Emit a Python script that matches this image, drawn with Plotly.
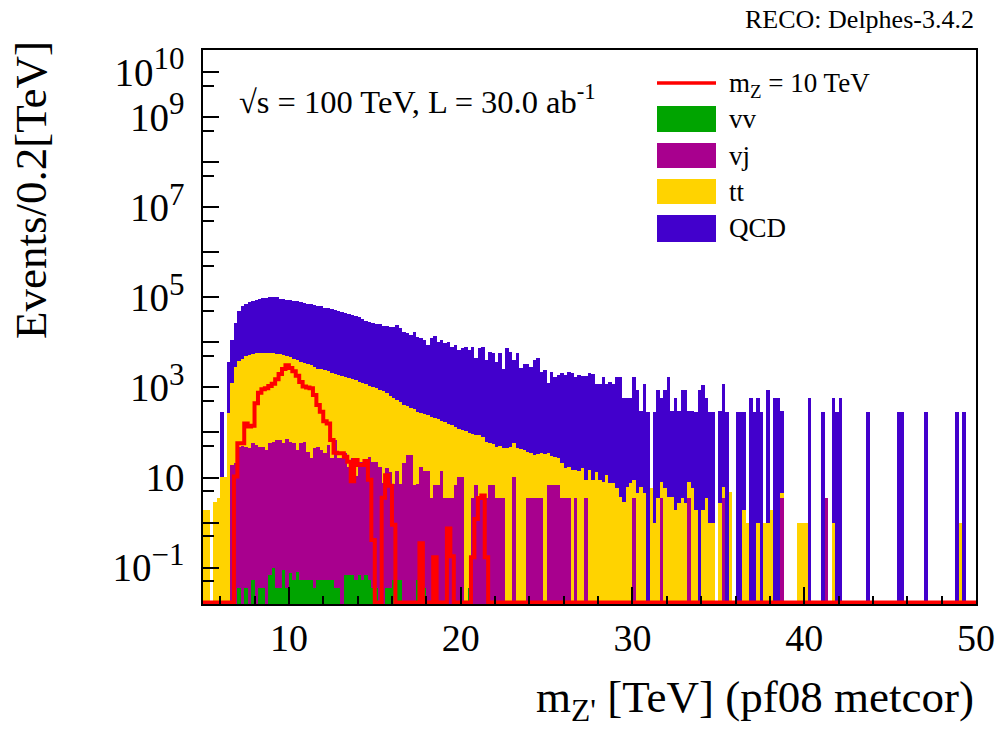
import numpy as np
import plotly.graph_objects as go

# ---------------- binning ----------------
X_MIN, X_MAX, BIN_W = 5.0, 50.0, 0.2
N_BINS = 225

# ---------------- data (events per 0.2 TeV bin) ----------------
QCD = [
    0, 0, 0, 0, 0, 280, 0, 3430, 9900, 24000,
    46300, 58700, 67400, 72200, 77600, 81300, 85300, 91800, 91800, 96200,
    94200, 94400, 87800, 85900, 84100, 82400, 80700, 77300, 73900, 72300,
    69100, 67600, 63200, 62000, 60600, 56500, 55200, 52900, 50500, 48200,
    46100, 44000, 42000, 39200, 36600, 35000, 31800, 28300, 27700, 26500,
    25300, 24200, 22600, 22100, 21800, 21800, 24000, 19900, 17000, 15400,
    14100, 17100, 13200, 12000, 10900, 8460, 12100, 13300, 10000, 11000,
    9380, 10000, 7800, 8570, 6640, 7300, 7830, 6660, 7850, 4380,
    7320, 7860, 4010, 6110, 5700, 3670, 5700, 2580, 7360, 6120,
    4000, 5700, 2590, 3350, 3350, 2850, 4040, 4440, 2200, 2420,
    1190, 2210, 1710, 1830, 2020, 1840, 2220, 2030, 1730, 1850,
    1750, 1750, 2030, 2030, 1160, 1160, 1740, 1160, 1310, 1160,
    1740, 1740, 580, 580, 580, 1740, 870, 290, 1160, 290,
    0, 290, 870, 580, 870, 1740, 290, 580, 290, 870,
    870, 290, 290, 290, 870, 1160, 580, 290, 290, 0,
    290, 1160, 290, 0, 0, 290, 290, 290, 0, 580,
    290, 580, 290, 0, 870, 0, 580, 580, 290, 0,
    0, 0, 0, 0, 0, 0, 580, 0, 0, 0,
    290, 0, 0, 580, 290, 580, 0, 0, 0, 0,
    0, 0, 0, 290, 0, 0, 0, 0, 0, 0,
    0, 0, 290, 290, 0, 0, 0, 0, 0, 0,
    290, 0, 0, 0, 0, 0, 0, 0, 0, 290,
    0, 290, 0, 0, 0,
]

TTBAR = [
    1.9, 1.9, 0, 2.8, 3.6, 10.4, 10.4, 270, 1240, 2800,
    3750, 4320, 4960, 5330, 5560, 5700, 5840, 5840, 5850, 5690,
    5690, 5550, 5430, 5190, 4940, 4620, 4310, 3940, 3660, 3490,
    3270, 3130, 2840, 2580, 2470, 2370, 2240, 2110, 1970, 1880,
    1790, 1700, 1600, 1480, 1440, 1330, 1240, 1150, 1070, 1000,
    933, 874, 825, 743, 618, 568, 511, 472, 396, 348,
    323, 317, 281, 252, 237, 226, 220, 207, 193, 168,
    170, 154, 141, 125, 112, 104, 107, 98, 89, 82,
    83, 75, 59, 51, 48, 44, 46, 42, 45, 48,
    47, 46, 44, 41, 34, 31, 28, 29, 32, 33,
    28, 23, 21, 20, 18, 12.5, 13.5, 15, 11.5, 14,
    16, 5.4, 15, 8.9, 13.5, 8.9, 8.1, 11.5, 7.4, 7.4,
    5.8, 3.7, 2.9, 6.3, 7.4, 5.4, 4.5, 6.3, 4.5, 0,
    5.8, 0.96, 3.5, 4.6, 5.8, 3.7, 3.7, 1.9, 2.7, 3.5,
    2.7, 4.6, 5.8, 1.9, 0, 1.9, 3.5, 0.96, 0.96, 0,
    2.7, 2.8, 0, 4.9, 0, 0, 0, 1.9, 0.96, 0,
    0, 0.96, 0, 0.96, 0.96, 1.9, 0, 0, 0.96, 0,
    0, 0, 0, 0.96, 0.96, 0.96, 0, 0, 0, 0,
    0, 0, 0, 0.96, 0, 0, 0, 0, 0, 0,
    0, 0, 0, 0, 0, 0, 0, 0, 0, 0,
    0, 0, 0, 0, 0, 0, 0, 0, 0, 0,
    0, 0, 0, 0, 0, 0, 0, 0, 0, 0,
    0.96, 0, 0, 0, 0,
]

VJ = [
    0, 0, 0, 0, 0, 0, 0, 0, 19, 21,
    48, 50, 48, 45, 58, 52, 48, 48, 41, 58,
    62, 68, 68, 58, 72, 62, 58, 41, 58, 62,
    37, 27, 45, 48, 41, 35, 52, 27, 68, 27,
    27, 35, 17, 27, 10.5, 22, 22, 19, 29, 22,
    22, 17, 7.4, 16, 13.5, 7, 14, 7, 21, 31.5,
    31.5, 7, 7, 17.5, 14, 14, 3.5, 7, 7, 14,
    3.5, 3.5, 3.5, 7, 10.5, 10.5, 0, 0, 3.5, 7,
    3.5, 3.5, 3.5, 7, 7, 3.5, 3.5, 3.5, 0, 0,
    10.5, 0, 0, 0, 3.5, 3.5, 3.5, 3.5, 3.5, 0,
    7, 7, 7, 7, 3.5, 3.5, 3.5, 0, 3.5, 0,
    0, 3.5, 0, 0, 0, 0, 0, 0, 0, 0,
    0, 0, 0, 0, 0, 3.5, 0, 0, 0, 0,
    0, 0, 0, 3.5, 0, 0, 0, 0, 0, 0,
    0, 3.5, 0, 0, 0, 0, 0, 0, 0, 0,
    0, 3.5, 0, 0, 0, 0, 0, 0, 0, 0,
    0, 0, 0, 0, 0, 0, 0, 0, 3.5, 0,
    0, 0, 0, 0, 0, 0, 0, 0, 0, 0,
    0, 3.5, 0, 0, 0, 0, 0, 0, 0, 0,
    0, 0, 0, 0, 0, 0, 0, 0, 0, 0,
    0, 0, 0, 0, 0, 0, 0, 0, 0, 0,
    0, 0, 0, 0, 0, 0, 0, 0, 0, 0,
    0, 0, 0, 0, 0,
]

VV = [
    0, 0, 0, 0, 0, 0, 0, 0, 0, 0,
    0.035, 0, 0.035, 0, 0.053, 0, 0.035, 0.035, 0, 0.07,
    0.1, 0.035, 0.035, 0.09, 0.035, 0.075, 0.053, 0.08, 0.053, 0.053,
    0.053, 0.053, 0.035, 0.053, 0.053, 0.053, 0.053, 0.053, 0.035, 0.035,
    0, 0.07, 0.07, 0.07, 0.053, 0.07, 0.053, 0.07, 0.053, 0.035,
    0.035, 0, 0, 0.035, 0.035, 0.053, 0.053, 0.053, 0, 0,
    0, 0, 0.053, 0.053, 0.035, 0, 0, 0, 0, 0,
    0, 0, 0, 0, 0, 0, 0, 0.035, 0, 0,
] + [0] * 145

SIGNAL = [
    0, 0, 0, 0, 0, 0, 0, 0, 0, 10.5,
    57.5, 57.5, 158, 135, 141, 447, 759, 912, 955, 1072,
    1202, 1514, 1995, 2570, 3090, 2690, 2290, 1820, 1318, 1047,
    1000, 955, 676, 407, 288, 178, 158, 68, 35.5, 34.7,
    34.7, 28.8, 22.4, 8.3, 24.5, 19.1, 19.1, 23.4, 8.9, 0.41,
    0, 0, 3.55, 11.2, 6.6, 0.89, 0, 0, 0, 0,
    0, 0, 0, 0.35, 0, 0, 0, 0.17, 0, 0,
    0, 0.74, 0.18, 0, 0, 0, 0, 0, 0.17, 1.2,
    3.5, 4.0, 0.17, 0, 0, 0, 0, 0, 0, 0,
] + [0] * 135

for name, arr in [("QCD", QCD), ("TTBAR", TTBAR), ("VJ", VJ), ("VV", VV), ("SIGNAL", SIGNAL)]:
    assert len(arr) == N_BINS, (name, len(arr))

LEGEND_LABELS = ["m<sub>Z</sub> = 10 TeV", "vv", "vj", "tt", "QCD"]
COLORS = {"sig": "#FF0000", "vv": "#00A400", "vj": "#A8008E", "tt": "#FFD300", "QCD": "#4200CC"}

Y_LOG_RANGE = [-1.807, 10.49]
SUP = "<sup><span style='font-size:31px'>{}</span></sup>"
Y_LABELED_EXP = [-1, 1, 3, 5, 7, 9, 10]
Y_LABELS = ["10" + SUP.format("\u22121"), "10", "10" + SUP.format("3"), "10" + SUP.format("5"),
            "10" + SUP.format("7"), "10" + SUP.format("9"), "10" + SUP.format("10")]
Y_UNLABELED_EXP = [0, 2, 4, 6, 8]
XTICKS = [10, 20, 30, 40, 50]

FONT = "Liberation Serif"

# ---------------- figure ----------------
edges = X_MIN + BIN_W * np.arange(N_BINS + 1)
centers = edges[:-1] + BIN_W / 2

vv = np.array(VV, float)
vj = np.array(VJ, float)
tt = np.array(TTBAR, float)
qcd = np.array(QCD, float)

stack = [("QCD", vv + vj + tt + qcd), ("tt", vv + vj + tt), ("vj", vv + vj), ("vv", vv)]


def nz(a):
    return [float(v) if v > 0 else None for v in a]


fig = go.Figure()
for name, tops in stack:
    fig.add_trace(go.Bar(x=centers, y=nz(tops), width=BIN_W,
                         marker=dict(color=COLORS[name], line=dict(width=0)),
                         showlegend=False, hoverinfo="skip"))

floor = 10 ** (Y_LOG_RANGE[0] + 0.035)
sig = np.array(SIGNAL, float)
sig_draw = np.where(sig > floor, sig, floor)
fig.add_trace(go.Scatter(x=edges, y=np.append(sig_draw, sig_draw[-1]), mode="lines",
                         line=dict(color=COLORS["sig"], width=4, shape="hv"),
                         showlegend=False, hoverinfo="skip"))

# plot area in pixels
L, R, T, B = 203, 25, 50, 136
W, H = 1001, 740
PW, PH = W - L - R, H - T - B


def px(xp):
    return (xp - L) / PW


def py(yp):
    return (H - B - yp) / PH


fig.update_layout(
    width=W, height=H, margin=dict(l=L, r=R, t=T, b=B, pad=0),
    paper_bgcolor="white", plot_bgcolor="white",
    barmode="overlay", bargap=0, showlegend=False,
    font=dict(family=FONT, color="black"),
)

fig.update_layout(xaxis=dict(
    range=[X_MIN, X_MAX], tickmode="array", tickvals=XTICKS, ticktext=[str(v) for v in XTICKS],
    ticks="inside", ticklen=17, tickwidth=1.5, tickcolor="black",
    tickfont=dict(size=38, family=FONT), ticklabelstandoff=0,
    showline=True, linecolor="black", linewidth=1.5, mirror=True,
    showgrid=False, zeroline=False, automargin=False,
    minor=dict(tickmode="linear", tick0=0, dtick=2, ticks="inside", ticklen=8,
               tickwidth=1.5, tickcolor="black", showgrid=False),
))

fig.update_layout(yaxis=dict(
    type="log", range=Y_LOG_RANGE, tickmode="array",
    tickvals=[10.0 ** e for e in Y_LABELED_EXP], ticktext=Y_LABELS,
    ticks="inside", ticklen=16, tickwidth=1.5, tickcolor="black",
    tickfont=dict(size=39, family=FONT), ticklabelstandoff=9,
    showline=True, linecolor="black", linewidth=1.5, mirror=True,
    showgrid=False, zeroline=False, automargin=False,
    minor=dict(tickmode="array", tickvals=[5 * 10.0 ** e for e in range(-2, 10)],
               ticks="inside", ticklen=11, tickwidth=1.5, tickcolor="black", showgrid=False),
))

# second (label-free) axis carrying the unlabeled decade ticks
fig.update_layout(yaxis2=dict(
    type="log", range=Y_LOG_RANGE, overlaying="y", side="left", anchor="x",
    tickmode="array", tickvals=[10.0 ** e for e in Y_UNLABELED_EXP],
    ticks="inside", ticklen=16, tickwidth=1.5, tickcolor="black",
    showticklabels=False, showline=False, showgrid=False, zeroline=False, automargin=False,
))
fig.add_trace(go.Scatter(x=[None], y=[None], yaxis="y2", mode="lines", showlegend=False,
                         hoverinfo="skip"))

ann = []
ann.append(dict(text="RECO: Delphes-3.4.2", x=1.0, y=py(20), xref="paper", yref="paper",
                xanchor="right", yanchor="middle", showarrow=False, font=dict(size=26)))
ann.append(dict(text="\u221as = 100 TeV, L = 30.0 ab<sup>-1</sup>",
                x=px(237), y=py(100), xref="paper", yref="paper",
                xanchor="left", yanchor="middle", showarrow=False, font=dict(size=32.5)))
ann.append(dict(text="m<sub>Z'</sub> [TeV] (pf08 metcor)", x=1.0, y=py(700), xref="paper", yref="paper",
                xanchor="right", yanchor="middle", showarrow=False, font=dict(size=45)))
ann.append(dict(text="Events/0.2[TeV]", x=px(31), y=py(190), xref="paper", yref="paper",
                xanchor="center", yanchor="middle", textangle=-90, showarrow=False, font=dict(size=45)))

# legend (ROOT style)
shapes = []
box_x0, box_x1 = px(657), px(716)
shapes.append(dict(type="line", xref="paper", yref="paper", x0=box_x0, x1=box_x1, y0=py(83), y1=py(83),
                   line=dict(color=COLORS["sig"], width=3.5)))
legend_boxes = [("vv", 106, 132), ("vj", 143, 168), ("tt", 179, 204), ("QCD", 215, 242)]
for name, ytop, ybot in legend_boxes:
    shapes.append(dict(type="rect", xref="paper", yref="paper", x0=box_x0, x1=box_x1,
                       y0=py(ybot), y1=py(ytop), fillcolor=COLORS[name], line=dict(width=0)))
text_y = [85, 119, 156, 192, 228]
for label, yc in zip(LEGEND_LABELS, text_y):
    ann.append(dict(text=label, x=px(727), y=py(yc), xref="paper", yref="paper",
                    xanchor="left", yanchor="middle", showarrow=False, font=dict(size=27)))

fig.update_layout(annotations=ann, shapes=shapes)
fig.write_html("out.html")
